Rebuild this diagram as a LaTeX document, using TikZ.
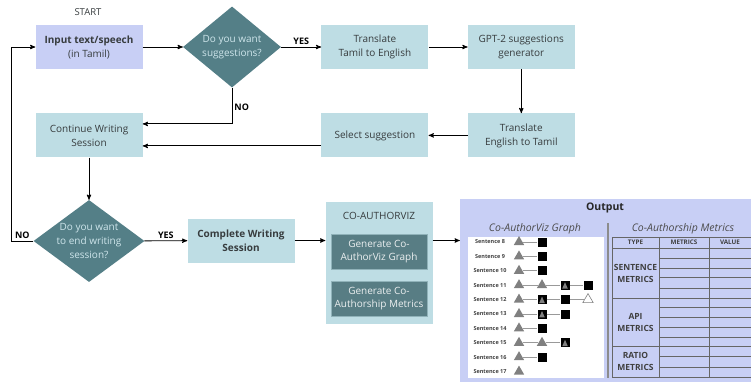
\documentclass[tikz,border=0pt]{standalone}
\usepackage{fontspec}
\setmainfont{Open Sans}
\usetikzlibrary{arrows,positioning,shapes.geometric}
\definecolor{lavender}{RGB}{200,207,245}
\definecolor{paleblue}{RGB}{190,221,228}
\definecolor{darkteal}{RGB}{84,127,135}
\definecolor{genteal}{RGB}{88,125,132}
\definecolor{boxtext}{RGB}{55,60,62}
\tikzstyle{box}=[rectangle,fill=paleblue,text=boxtext,align=center,minimum width=107pt,minimum height=44pt,inner sep=1pt,font=\fontsize{10}{14}\selectfont]
\tikzstyle{question}=[diamond,fill=darkteal,text=paleblue!75!white,align=center,inner sep=-9pt,aspect=1.4,font=\fontsize{10}{14}\selectfont]
\tikzstyle{gen}=[rectangle,fill=genteal,draw=paleblue!55!genteal,text=white!88!genteal,align=center,minimum width=96pt,minimum height=35pt,inner sep=1pt,font=\fontsize{10}{13.5}\selectfont]
\tikzstyle{answer}=[font=\bfseries\fontsize{9}{10}\selectfont,inner sep=2pt]
\tikzstyle{flow}=[line width=0.9pt,>=stealth']
\tikzstyle{tabline}=[draw=black!60,line width=0.5pt]
\tikzstyle{th}=[font=\bfseries\fontsize{6.3}{7}\selectfont,text=black!75]
\tikzstyle{tg}=[align=center,font=\bfseries\fontsize{8.5}{12}\selectfont,text=black!75]
\tikzstyle{sent}=[font=\bfseries\fontsize{5.5}{6}\selectfont,text=black!75]
\tikzstyle{vt}=[regular polygon,regular polygon sides=3,fill=black!50,inner sep=0pt,minimum size=12pt]
\tikzstyle{vw}=[vt,fill=white,draw=black!50,line width=0.6pt]
\tikzstyle{vs}=[rectangle,fill=black,inner sep=0pt,minimum size=9pt]
\tikzstyle{vm}=[vs,path picture={\fill[black!50] ([shift={(-2.8pt,-3.4pt)}]path picture bounding box.center) -- ([shift={(2.8pt,-3.4pt)}]path picture bounding box.center) -- ([shift={(0pt,3pt)}]path picture bounding box.center) -- cycle;}]
\tikzstyle{link}=[draw=black!40,line width=0.8pt]

\begin{document}
\begin{tikzpicture}[x=1pt,y=-1pt]
  \useasboundingbox (0,0) rectangle (751,383);
  \node[box,fill=lavender] (inp) at (89,47) {\textbf{Input text/speech}\\(in Tamil)};
  \node[font=\fontsize{9.5}{10}\selectfont,text=boxtext] (start) at (88,12) {START};
  \node[question,minimum width=98pt,minimum height=81pt] (sugg) at (232,47) {Do you want\\suggestions?};
  \node[box] (tamen) [right=40pt of sugg] {Translate\\Tamil to English};
  \node[box] (gpt) [right=39pt of tamen] {GPT-2 suggestions\\generator};
  \node[box] (entam) [below=44pt of gpt] {Translate\\English to Tamil};
  \node[box] (sel) [left=39pt of entam] {Select suggestion};
  \node[box] (cont) [below=44pt of inp] {Continue Writing\\Session};
  \node[question,minimum width=111pt,minimum height=82pt] (fin) at (89,241) {Do you want\\to end writing\\session?};
  \node[box,font=\bfseries\fontsize{10}{14}\selectfont] (done) at (241,240.5) {Complete Writing\\Session};
  \node[box,minimum height=122pt] (cav) at (379,263) {};
  \node[text=boxtext,font=\fontsize{10}{11}\selectfont] (cavtitle) at (379,216) {CO-AUTHORVIZ};
  \node[gen] (gengraph) at (379,251.5) {Generate Co-\\AuthorViz Graph};
  \node[gen] (genmetric) at (379,298.5) {Generate Co-\\Authorship Metrics};

  % output panel
  \node[rectangle,fill=lavender,minimum width=291pt,minimum height=183pt,inner sep=0pt] (out) at (605.5,290.5) {};
  \node[font=\bfseries\fontsize{10.5}{11}\selectfont,text=black!85] (outtitle) at (605,208) {Output};
  \node[font=\itshape\fontsize{10.5}{11}\selectfont,text=black!70] (graphtitle) at (535,229) {Co-AuthorViz Graph};
  \node[font=\itshape\fontsize{10.5}{11}\selectfont,text=black!70] (metrictitle) at (683,229) {Co-Authorship Metrics};
  \node[fill=white,minimum width=136pt,minimum height=141pt,inner sep=0pt] (graph) at (536,307.5) {};
  \draw[black!45,line width=1.3pt] (608,223) -- (608,378);

  \path[flow,->] (inp) edge (sugg)
        (sugg) edge node[answer,above] {YES} (tamen)
        (tamen) edge (gpt)
        (gpt) edge (entam)
        (entam) edge (sel)
        (cont) edge (fin)
        (fin) edge node[answer,above] {YES} (done)
        (done) edge (done -| cav.west)
        (cav.east |- done) edge (out.west |- done);
  \draw[flow,->] (sugg.south) |- node[answer,pos=0.27,right] {NO} ([yshift=11.5pt]cont.east);
  \draw[flow,->] ([yshift=-10.5pt]sel.west) -- ([yshift=-10.5pt]cont.east);
  \draw[flow,->] (fin.west) -- node[answer,above] {NO} ++(-22,0) |- (inp.west);

  % metrics table
  \foreach \y in {237,248,298,346,377} \draw[tabline] (612,\y) -- (751,\y);
  \foreach \x in {612,659,709} \draw[tabline] (\x,237) -- (\x,377);
  \foreach \y in {258,268,277,288,307,317,327,337,356,367} \draw[tabline,line width=0.4pt] (659,\y) -- (751,\y);
  \node[th] (thtype) at (635.5,242.5) {TYPE};
  \node[th] (thmetric) at (684,242.5) {METRICS};
  \node[th] (thvalue) at (730,242.5) {VALUE};
  \node[tg] (gsent) at (635.5,273) {SENTENCE\\METRICS};
  \node[tg] (gapi) at (635.5,322) {API\\METRICS};
  \node[tg] (gratio) at (635.5,361.5) {RATIO\\METRICS};

  % co-authorviz graph rows
  \foreach \n/\ua/\ub/\uc/\ud [count=\i] in {8/t/s/x/x, 9/t/s/x/x, 10/t/s/x/x, 11/t/t/m/s, 12/t/m/s/w, 13/t/m/s/x, 14/t/s/x/x, 15/t/t/m/x, 16/t/s/x/x, 17/t/x/x/x}{
    \node[sent] (s\n) at (490,227.6+14.4*\i) {Sentence \n};
    \foreach \k [count=\j] in {\ua,\ub,\uc,\ud}{
      \if\k x\else
        \node[v\k] (v\n-\j) at (496+23*\j,227.6+14.4*\i) {};
        \ifnum\j>1 \pgfmathtruncatemacro\p{\j-1}\draw[link] (v\n-\p) -- (v\n-\j);\fi
      \fi
    }
  }
\end{tikzpicture}
\end{document}
